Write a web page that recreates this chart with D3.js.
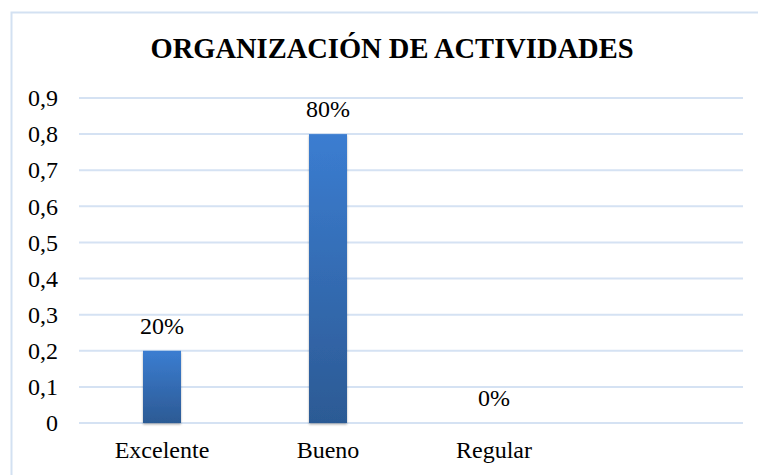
<!DOCTYPE html>
<html>
<head>
<meta charset="utf-8">
<script src="https://cdn.jsdelivr.net/npm/d3@7"></script>
<style>
  body { margin: 0; background: #fff; }
  svg { display: block; font-family: "Liberation Serif", "Times New Roman", serif; }
</style>
</head>
<body>
<div id="chart"></div>
<script>
// data
const categories = ["Excelente", "Bueno", "Regular", ""];
const values = [0.2, 0.8, 0, null];
const labels = ["20%", "80%", "0%", ""];
const yTicks = [0, 0.1, 0.2, 0.3, 0.4, 0.5, 0.6, 0.7, 0.8, 0.9];

const W = 758, H = 475;
const margin = { top: 98, left: 79, right: 15, bottom: 52 };
const width = 743 - margin.left,
  height = 423 - margin.top;

const svg = d3.select("#chart").append("svg")
  .attr("width", W)
  .attr("height", H);

const defs = svg.append("defs");
const grad = defs.append("linearGradient")
  .attr("id", "barGrad")
  .attr("x1", 0).attr("y1", 0).attr("x2", 0).attr("y2", 1);
grad.append("stop").attr("offset", "0%").attr("stop-color", "#3b7dd1");
grad.append("stop").attr("offset", "100%").attr("stop-color", "#2c5a94");

const shadow = defs.append("filter").attr("id", "shadow")
  .attr("x", "-20%").attr("y", "-5%").attr("width", "140%").attr("height", "115%");
shadow.append("feDropShadow")
  .attr("dx", 0).attr("dy", 1.5).attr("stdDeviation", 1.2)
  .attr("flood-color", "#000").attr("flood-opacity", 0.3);

// chart area border (only left/top visible in the frame)
svg.append("rect")
  .attr("x", 11.5).attr("y", 12.5)
  .attr("width", 800).attr("height", 500)
  .attr("fill", "none")
  .attr("stroke", "#d3e1f2")
  .attr("stroke-width", 2);

svg.append("text")
  .attr("x", 392)
  .attr("y", 58)
  .attr("text-anchor", "middle")
  .style("font-size", "28.5px")
  .style("font-weight", "bold")
  .text("ORGANIZACIÓN DE ACTIVIDADES");

const g = svg.append("g")
  .attr("transform", "translate(" + margin.left + "," + margin.top + ")");

const xScale = d3.scaleBand()
  .domain(d3.range(categories.length))
  .range([0, width]);

const yScale = d3.scaleLinear()
  .domain([0, 0.9])
  .range([height, 0]);

// gridlines
g.selectAll(".grid")
  .data(yTicks)
  .enter().append("line")
  .attr("x1", 0).attr("x2", width)
  .attr("y1", d => yScale(d)).attr("y2", d => yScale(d))
  .attr("stroke", "#d5e2f3")
  .attr("stroke-width", 2);

// y axis
const yAxis = g.append("g")
  .call(d3.axisLeft(yScale)
    .tickValues(yTicks)
    .tickSize(0)
    .tickPadding(21)
    .tickFormat(d => d3.format("~g")(d).replace(".", ",")));
yAxis.select(".domain").remove();
yAxis.selectAll("text")
  .style("font-family", "Liberation Serif, serif")
  .style("font-size", "24px")
  .attr("fill", "#000");

// x axis
const xAxis = g.append("g")
  .attr("transform", "translate(0," + height + ")")
  .call(d3.axisBottom(xScale).tickSize(0).tickPadding(18).tickFormat(i => categories[i]));
xAxis.select(".domain").remove();
xAxis.selectAll("text")
  .style("font-family", "Liberation Serif, serif")
  .style("font-size", "24px")
  .attr("fill", "#000");

const barW = 38;
const bars = values.map((v, i) => ({ i, v })).filter(d => d.v !== null);

g.selectAll(".bar")
  .data(bars.filter(d => d.v > 0))
  .enter().append("rect")
  .attr("x", d => xScale(d.i) + xScale.bandwidth() / 2 - barW / 2)
  .attr("y", d => yScale(d.v))
  .attr("width", barW)
  .attr("height", d => height - yScale(d.v))
  .attr("fill", "url(#barGrad)")
  .attr("filter", "url(#shadow)");

g.selectAll(".lbl")
  .data(bars)
  .enter().append("text")
  .attr("x", d => xScale(d.i) + xScale.bandwidth() / 2)
  .attr("y", d => yScale(d.v) - 17)
  .attr("text-anchor", "middle")
  .style("font-size", "24px")
  .text(d => labels[d.i]);
</script>
</body>
</html>
